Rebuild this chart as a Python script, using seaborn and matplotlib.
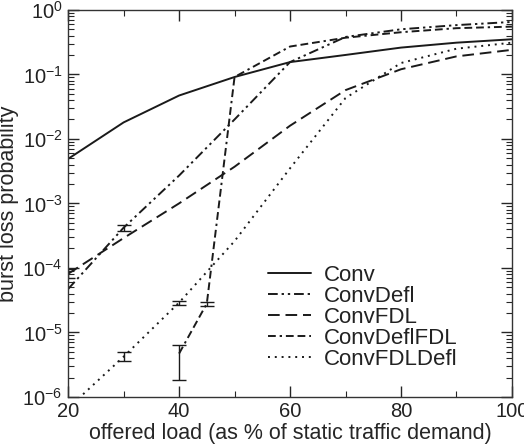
import numpy as np
import pandas as pd
import matplotlib
matplotlib.use('Agg')
import matplotlib.pyplot as plt
import matplotlib.ticker as mticker
import seaborn as sns

# offered load (% of static traffic demand)
load_all = [20, 30, 40, 50, 60, 70, 80, 90, 100]
load_deflfdl = [40, 45, 50, 60, 70, 80, 90, 100]

# burst loss probability per scheme
conv = [4.9e-3, 1.8e-2, 4.7e-2, 9.1e-2, 0.155, 0.20, 0.26, 0.31, 0.35]
conv_defl = [4.7e-5, 4.2e-4, 2.7e-3, 2.0e-2, 0.155, 0.38, 0.50, 0.58, 0.65]
conv_fdl = [8.1e-5, 2.9e-4, 1.0e-3, 3.7e-3, 1.6e-2, 5.7e-2, 0.12, 0.19, 0.24]
conv_defl_fdl = [4.7e-6, 2.8e-5, 9.1e-2, 0.27, 0.37, 0.45, 0.52, 0.55]
conv_fdl_defl = [6.7e-7, 4.2e-6, 2.9e-5, 2.6e-4, 3.5e-3, 4.3e-2, 0.15, 0.25, 0.31]

# visible confidence intervals: scheme, load, low, high
err_scheme = ['ConvDeflFDL', 'ConvDeflFDL', 'ConvFDLDefl', 'ConvFDLDefl', 'ConvFDL', 'ConvDefl']
err_load = [40, 45, 30, 40, 20, 30]
err_low = [1.8e-6, 2.6e-5, 3.6e-6, 2.7e-5, 7.0e-5, 3.8e-4]
err_high = [6.3e-6, 3.0e-5, 4.9e-6, 3.1e-5, 9.5e-5, 4.6e-4]

schemes = ['Conv', 'ConvDefl', 'ConvFDL', 'ConvDeflFDL', 'ConvFDLDefl']

# build long-format table
frames = [
    pd.DataFrame({'load': load_all, 'p': conv, 'scheme': 'Conv'}),
    pd.DataFrame({'load': load_all, 'p': conv_defl, 'scheme': 'ConvDefl'}),
    pd.DataFrame({'load': load_all, 'p': conv_fdl, 'scheme': 'ConvFDL'}),
    pd.DataFrame({'load': load_deflfdl, 'p': conv_defl_fdl, 'scheme': 'ConvDeflFDL'}),
    pd.DataFrame({'load': load_all, 'p': conv_fdl_defl, 'scheme': 'ConvFDLDefl'}),
]
df = pd.concat(frames, ignore_index=True)

sns.set_theme(style='ticks')
plt.rcParams['font.family'] = ['Liberation Sans', 'DejaVu Sans']
plt.rcParams['mathtext.fontset'] = 'custom'
plt.rcParams['mathtext.rm'] = 'Liberation Sans'
plt.rcParams['mathtext.it'] = 'Liberation Sans'
plt.rcParams['text.color'] = '#222222'
plt.rcParams['xtick.labelcolor'] = '#222222'
plt.rcParams['ytick.labelcolor'] = '#222222'

dash_styles = {
    'Conv': '',
    'ConvDefl': (5, 2, 1.2, 2, 1.2, 2),
    'ConvFDL': (6, 3),
    'ConvDeflFDL': (4, 2, 1.2, 2, 4, 2, 4, 2),
    'ConvFDLDefl': (1, 2.5),
}

fig = plt.figure(figsize=(5.24, 4.48), dpi=100)
ax = fig.add_axes([0.130, 0.114, 0.847, 0.864])

sns.lineplot(data=df, x='load', y='p', style='scheme', style_order=schemes,
             dashes=dash_styles, color='#1a1a1a', linewidth=1.4,
             errorbar=None, ax=ax)

# error bars
err = pd.DataFrame({'scheme': err_scheme, 'load': err_load, 'low': err_low, 'high': err_high})
for _, r in err.iterrows():
    mid = np.sqrt(r['low'] * r['high'])
    ax.errorbar([r['load']], [mid], yerr=[[mid - r['low']], [r['high'] - mid]],
                fmt='none', ecolor='#1a1a1a', elinewidth=1, capsize=5, capthick=1)

ax.set_yscale('log')
ax.set_xlim(20, 100)
ax.set_ylim(1e-6, 1)
ax.xaxis.set_major_locator(mticker.MultipleLocator(20))
ax.xaxis.set_minor_locator(mticker.MultipleLocator(10))
ax.yaxis.set_major_locator(mticker.LogLocator(base=10, numticks=10))
ax.yaxis.set_minor_locator(mticker.LogLocator(base=10, subs=np.arange(2, 10), numticks=20))
ax.yaxis.set_minor_formatter(mticker.NullFormatter())

ax.tick_params(which='both', direction='in', top=True, right=True, labelsize=14.5, pad=4)
ax.tick_params(which='major', length=8, width=1)
ax.tick_params(which='minor', length=4, width=0.8)
for s in ax.spines.values():
    s.set_linewidth(1)
    s.set_color('#333333')

ax.set_xlabel('offered load (as % of static traffic demand)', fontsize=15.5, labelpad=1)
ax.set_ylabel('burst loss probability', fontsize=15.5, labelpad=2)

handles, labels = ax.get_legend_handles_labels()
ax.legend(handles, labels, loc='upper left', bbox_to_anchor=(0.45, 0.342),
          frameon=False, fontsize=16, handlelength=1.95, handletextpad=0.55,
          labelspacing=0.0, borderpad=0, borderaxespad=0)

plt.savefig('out.png', dpi=100)
